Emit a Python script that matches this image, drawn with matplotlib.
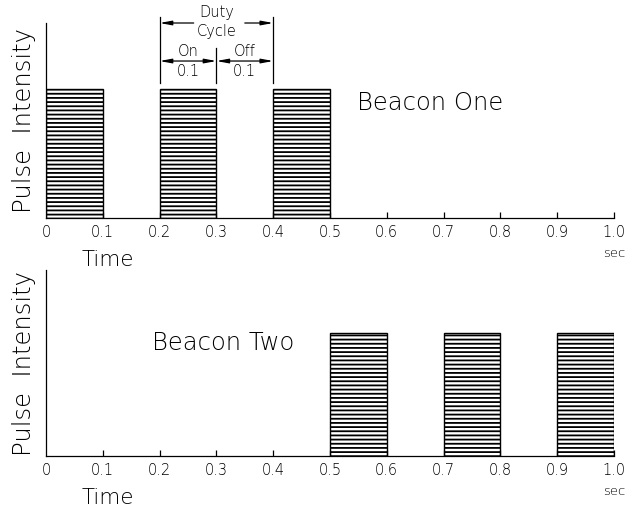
import matplotlib
matplotlib.use("Agg")
import matplotlib.pyplot as plt

plt.rcParams['font.family'] = ['DejaVu Sans']
plt.rcParams['font.weight'] = 'light'
plt.rcParams['axes.labelweight'] = 'light'
plt.rcParams['hatch.linewidth'] = 1.3

# data
beacon_one_starts = [0.0, 0.2, 0.4]
beacon_two_starts = [0.5, 0.7, 0.9]
pulse_width = 0.1
pulse_height = 0.66
tick_values = [0, 0.1, 0.2, 0.3, 0.4, 0.5, 0.6, 0.7, 0.8, 0.9, 1.0]
tick_labels = ["0", "0.1", "0.2", "0.3", "0.4", "0.5", "0.6", "0.7", "0.8", "0.9", "1.0"]
titles = ["Beacon One", "Beacon Two"]
duty_on = 0.1
duty_off = 0.1

fig = plt.figure(figsize=(6.32, 5.12), dpi=100)
ax1 = fig.add_axes([46/632, (512-218)/512, 568/632, 195/512])
ax2 = fig.add_axes([46/632, (512-456)/512, 568/632, 186/512])


def style(ax, starts, title, tx, ty):
    ax.bar(starts, [pulse_height]*len(starts), width=pulse_width, align='edge',
           color='white', edgecolor='black', hatch='----', linewidth=1.0)
    ax.set_xlim(0, 1.0)
    ax.set_ylim(0, 1.0)
    for s in ['top', 'right']:
        ax.spines[s].set_visible(False)
    ax.spines['left'].set_linewidth(0.9)
    ax.spines['bottom'].set_linewidth(0.9)
    ax.set_yticks([])
    ax.set_xticks(tick_values)
    ax.set_xticklabels(tick_labels, fontsize=10.5)
    ax.tick_params(axis='x', direction='in', length=4, width=0.9, pad=5)
    ax.xaxis.get_major_ticks()[0].tick1line.set_visible(False)
    ax.set_ylabel("Pulse  Intensity", fontsize=17.5, labelpad=7, fontweight='light')
    ax.annotate("Time", xy=(0.108, 0), xycoords=('data', 'axes fraction'),
                xytext=(0, -30), textcoords='offset points',
                ha='center', va='center', fontsize=15.5)
    ax.annotate("sec", xy=(1.0, 0), xycoords=('data', 'axes fraction'),
                xytext=(0, -25), textcoords='offset points',
                ha='center', va='center', fontsize=9.5)
    ax.text(tx, ty, title, fontsize=17.5, ha='left', va='center')


style(ax1, beacon_one_starts, titles[0], 0.548, 0.59)
style(ax2, beacon_two_starts, titles[1], 0.187, 0.61)

# duty cycle dimension annotation
x0 = beacon_one_starts[1]
x1 = x0 + duty_on
x2 = x1 + duty_off
kw = dict(color='black', lw=0.9, clip_on=False)
ax1.plot([x0, x0], [0.69, 1.03], **kw)
ax1.plot([x2, x2], [0.69, 1.03], **kw)
ax1.plot([x1, x1], [0.69, 0.87], **kw)

arrow = dict(arrowstyle='-|>,head_length=0.7,head_width=0.13', color='black', lw=0.9,
             shrinkA=0, shrinkB=0)
# duty cycle line broken around "Cycle"
ax1.annotate("", xy=(x0, 1.0), xytext=(x0 + 0.06, 1.0), xycoords='data',
             arrowprops=arrow, annotation_clip=False)
ax1.annotate("", xy=(x2, 1.0), xytext=(x2 - 0.05, 1.0), xycoords='data',
             arrowprops=arrow, annotation_clip=False)
ax1.text((x0 + x2)/2, 1.056, "Duty", ha='center', va='center', fontsize=10.5, clip_on=False)
ax1.text((x0 + x2)/2, 0.955, "Cycle", ha='center', va='center', fontsize=10.5, clip_on=False)

arrow2 = dict(arrowstyle='<|-|>,head_length=0.7,head_width=0.13', color='black', lw=0.9,
              shrinkA=0, shrinkB=0)
ax1.annotate("", xy=(x0, 0.805), xytext=(x1, 0.805), arrowprops=arrow2, annotation_clip=False)
ax1.annotate("", xy=(x1, 0.805), xytext=(x2, 0.805), arrowprops=arrow2, annotation_clip=False)
ax1.text((x0 + x1)/2, 0.855, "On", ha='center', va='center', fontsize=10.5)
ax1.text((x1 + x2)/2, 0.855, "Off", ha='center', va='center', fontsize=10.5)
ax1.text((x0 + x1)/2, 0.75, "0.1", ha='center', va='center', fontsize=10.5)
ax1.text((x1 + x2)/2, 0.75, "0.1", ha='center', va='center', fontsize=10.5)

fig.savefig("out.png", dpi=100)
